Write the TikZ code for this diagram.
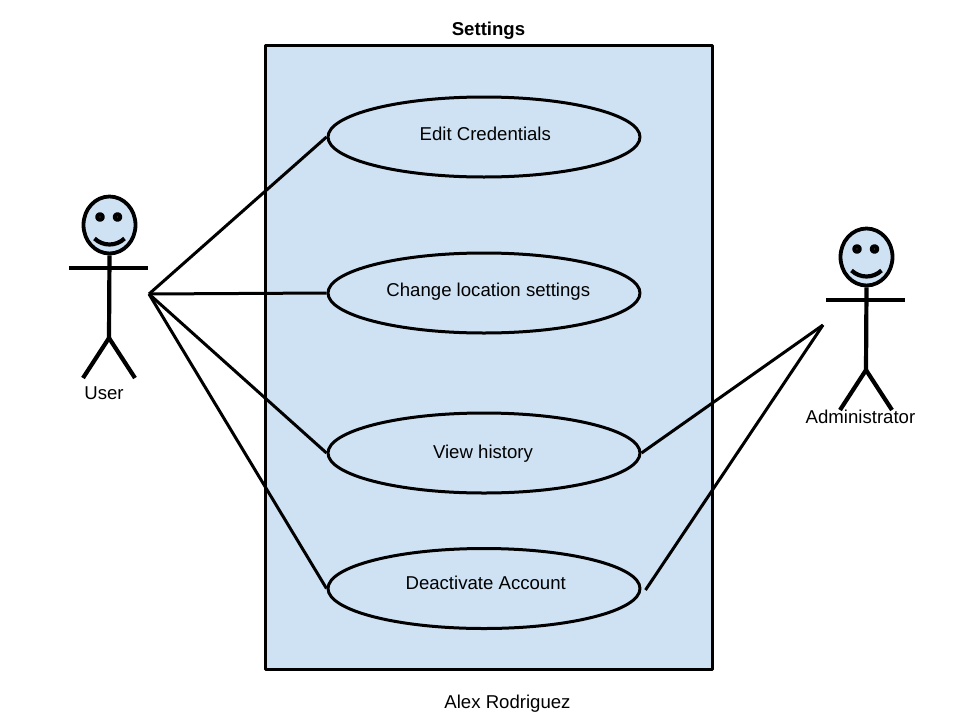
\documentclass[tikz,border=0pt]{standalone}
\usepackage{fontspec}
\setmainfont{Liberation Sans}
\usetikzlibrary{shapes.geometric}
\definecolor{paleblue}{HTML}{CFE2F3}
\begin{document}
\begin{tikzpicture}[x=1pt, y=-1pt, line join=round]

\useasboundingbox (0,0) rectangle (960,720);

%% setup styles
\tikzstyle{every node}=[font=\fontsize{18.6}{20}\selectfont, text=black]
\tikzstyle{usecase}=[ellipse, draw=black, fill=paleblue, line width=3pt, minimum width=312pt, minimum height=80pt, inner sep=0pt]
\tikzstyle{system}=[rectangle, draw=black, fill=paleblue, line width=3pt, minimum width=447pt, minimum height=624pt, inner sep=0pt]
\tikzstyle{link}=[line width=3pt]
\tikzstyle{limb}=[line width=4.2pt]
\tikzstyle{head}=[ellipse, draw=black, fill=paleblue, line width=3.8pt, minimum width=52pt, minimum height=57pt, inner sep=0pt]
\tikzstyle{eye}=[circle, draw=black, fill=paleblue, line width=4.2pt, minimum size=5.5pt, inner sep=0pt]

% system box
\node[system] (settings) at (489,357) {};
\node[font=\fontsize{18.6}{20}\selectfont\bfseries] (title) at (488.5,31) {Settings};
\node (author) at (507.5,704) {Alex Rodriguez};

% use cases
\foreach \name/\y/\ybase/\xtxt/\txt in {edit/137/140/485.3/Edit Credentials,
location/293/296.5/488.3/Change location settings,
history/453/458/483/View history,
deactivate/588.5/589.3/485.7/Deactivate Account}{
\node[usecase] (\name) at (484,\y) {};
\node[anchor=base] (\name-label) at (\xtxt,\ybase) {\txt};}

% actors
\foreach \name/\xs/\ys in {user/0/0,admin/757/32}{
\begin{scope}[shift={(\xs,\ys)}]
\node[head] (\name-head) at (109.5,225) {};
\node[eye] (\name-eyel) at (100,217) {};
\node[eye] (\name-eyer) at (117.5,217) {};
\coordinate (\name-armleft) at (69,268);
\coordinate (\name-armright) at (148,268);
\coordinate (\name-hip) at (109,338);
\coordinate (\name-footleft) at (83,378);
\coordinate (\name-footright) at (135,378);
\coordinate (\name-smileleft) at (94.5,238.5);
\coordinate (\name-smileright) at (124.5,238.5);
\draw[limb] (\name-head.south) -- (\name-hip);
\draw[limb] (\name-armleft) -- (\name-armright);
\draw[limb] (\name-footleft) -- (\name-hip) -- (\name-footright);
\draw[limb] (\name-smileleft) .. controls (103,246.5) and (116,246.5) .. (\name-smileright);
\end{scope}}

\node (user-label) at (104,393) {User};
\node (admin-label) at (860.5,417) {Administrator};

% free ends of the connectors
\coordinate (userhand) at (149,294);
\coordinate (adminhand) at (823,325);
\coordinate (deactivate-end) at (645.5,590);

\foreach \dest in {edit,location,history,deactivate}{
\draw[link] (userhand) -- (\dest.west);}

\draw[link] (adminhand) -- (history.east);
\draw[link] (adminhand) -- (deactivate-end);

\end{tikzpicture}
\end{document}
